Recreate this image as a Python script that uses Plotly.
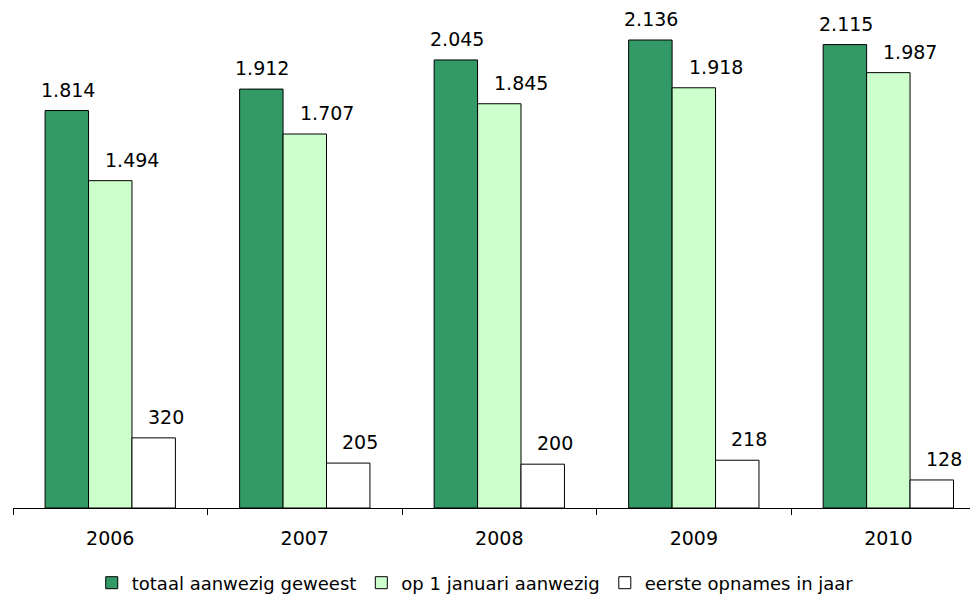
import plotly.graph_objects as go

years = ["2006", "2007", "2008", "2009", "2010"]
totaal = [1814, 1912, 2045, 2136, 2115]
januari = [1494, 1707, 1845, 1918, 1987]
opnames = [320, 205, 200, 218, 128]

names = ["totaal aanwezig geweest", "op 1 januari aanwezig", "eerste opnames in jaar"]
colors = ["#339966", "#CCFFCC", "#FFFFFF"]
series = [totaal, januari, opnames]

FONT = "DejaVu Sans, Verdana, sans-serif"

W, H = 970, 596
ML, MR, MT, MB = 5, 0, 0, 96
XRANGE = [-0.5, 4.461]
BARGAP = 0.33
# label nudges (px) per series, as in the original chart
LABEL_DX = [1, 22, 12]
LABEL_DY = 8

fig = go.Figure()
for name, vals, col in zip(names, series, colors):
    fig.add_trace(go.Bar(
        x=years, y=vals, name=name,
        marker=dict(color=col, line=dict(color="#000000", width=1)),
    ))

# data labels placed above each bar
cat_px = (W - ML - MR) / (XRANGE[1] - XRANGE[0])
bar_px = cat_px * (1 - BARGAP) / len(series)
for i, vals in enumerate(series):
    for j, v in enumerate(vals):
        fig.add_annotation(
            x=j, y=v, xref="x", yref="y",
            text=f"{v:,}".replace(",", "."),
            showarrow=False, yanchor="bottom", xanchor="center",
            xshift=(i - (len(series) - 1) / 2) * bar_px + LABEL_DX[i],
            yshift=LABEL_DY,
            font=dict(family=FONT, size=19, color="#000000"),
        )

fig.update_layout(
    width=W, height=H,
    margin=dict(l=ML, r=MR, t=MT, b=MB),
    paper_bgcolor="white", plot_bgcolor="white",
    barmode="group", bargap=BARGAP, bargroupgap=0,
    font=dict(family=FONT, size=18, color="#000000"),
    showlegend=True,
    legend=dict(orientation="h", x=0.479, xanchor="center",
                yref="container", y=1 - 575 / H, yanchor="middle",
                font=dict(family=FONT, size=18, color="#000000"),
                itemwidth=30, traceorder="normal"),
    xaxis=dict(type="category", range=XRANGE,
               showline=True, linecolor="#000000", linewidth=1,
               ticks="outside", tickson="boundaries", ticklen=6,
               tickcolor="#000000", showgrid=False,
               tickfont=dict(family=FONT, size=19, color="#000000"),
               ticklabelstandoff=13),
    yaxis=dict(range=[0, 500 / 0.2191], visible=False, showgrid=False, zeroline=False),
)

fig.write_html("out.html")
